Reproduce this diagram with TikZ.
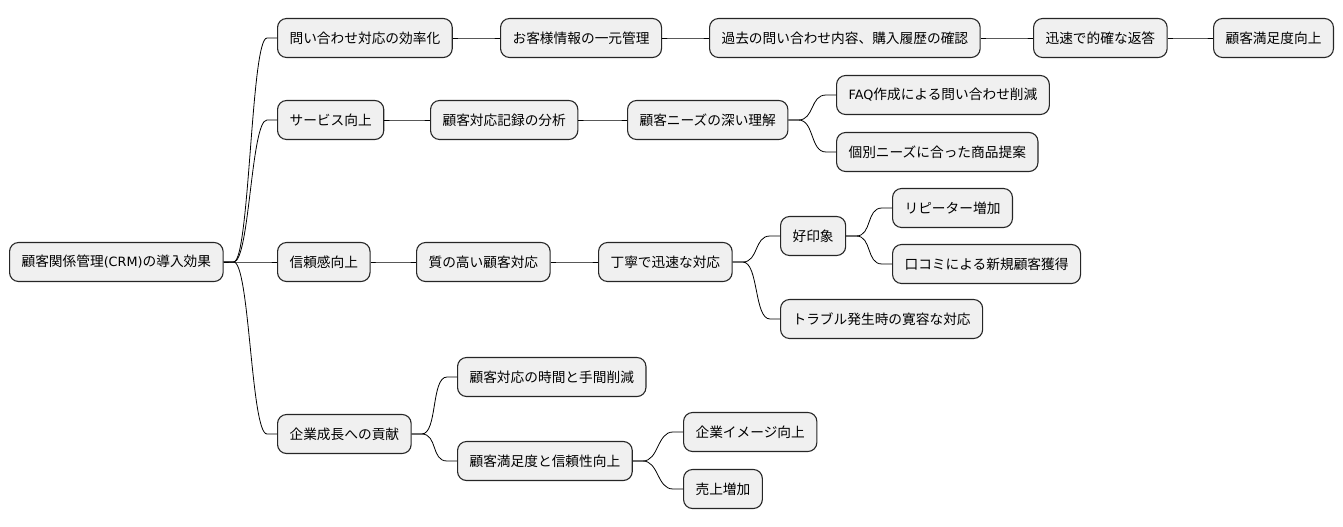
\documentclass[tikz,border=0pt]{standalone}
\usepackage{fontspec}
\setmainfont{Noto Sans CJK JP}
\newfontfamily\latin{DejaVu Sans}
\tikzset{
  topic/.style={draw=black!85, line width=1.1pt, fill=black!6, rounded corners=9pt,
    anchor=west, minimum height=39pt, inner xsep=12pt, inner ysep=0pt,
    font=\fontsize{13.7}{16}\selectfont},
  link/.style={line width=0.8pt, to path={-- ++(10,0) .. controls +(16,0) and +(-16,0) .. ([xshift=-10pt]\tikztotarget) -- (\tikztotarget)}}
}
\begin{document}
\begin{tikzpicture}[x=1pt,y=-1pt]
  \useasboundingbox (0,0) rectangle (1343,527);
  % root
  \node[topic] (root) at (9,262) {顧客関係管理{\latin\fontsize{12.8}{16}\selectfont (CRM)}の導入効果};
  % first branch
  \node[topic] (koritsu) at (277,38) {問い合わせ対応の効率化};
  \node[topic] (ichigen) at (500,38) {お客様情報の一元管理};
  \node[topic] (rireki) at (709,38) {過去の問い合わせ内容、購入履歴の確認};
  \node[topic] (hento) at (1033,38) {迅速で的確な返答};
  \node[topic] (manzoku) at (1213,38) {顧客満足度向上};
  % second branch
  \node[topic] (service) at (277,120) {サービス向上};
  \node[topic] (bunseki) at (430,120) {顧客対応記録の分析};
  \node[topic] (needs) at (627,120) {顧客ニーズの深い理解};
  \node[topic] (faq) at (836,95) {{\latin\fontsize{12.8}{16}\selectfont FAQ}作成による問い合わせ削減};
  \node[topic] (teian) at (836,152) {個別ニーズに合った商品提案};
  % third branch
  \node[topic] (shinrai) at (277,262) {信頼感向上};
  \node[topic] (shitsu) at (416,262) {質の高い顧客対応};
  \node[topic] (teinei) at (598,262) {丁寧で迅速な対応};
  \node[topic] (koinsho) at (780,236) {好印象};
  \node[topic] (repeat) at (892,208) {リピーター増加};
  \node[topic] (kuchikomi) at (892,264) {口コミによる新規顧客獲得};
  \node[topic] (trouble) at (780,319) {トラブル発生時の寛容な対応};
  % fourth branch
  \node[topic] (seicho) at (277,434) {企業成長への貢献};
  \node[topic] (jikan) at (457,377) {顧客対応の時間と手間削減};
  \node[topic] (shinraisei) at (457,461) {顧客満足度と信頼性向上};
  \node[topic] (image) at (683,432) {企業イメージ向上};
  \node[topic] (uriage) at (683,489) {売上増加};

  \foreach \a/\b in {root/koritsu, root/service, root/shinrai, root/seicho,
      koritsu/ichigen, ichigen/rireki, rireki/hento, hento/manzoku,
      service/bunseki, bunseki/needs, needs/faq, needs/teian,
      shinrai/shitsu, shitsu/teinei, teinei/koinsho, teinei/trouble,
      koinsho/repeat, koinsho/kuchikomi,
      seicho/jikan, seicho/shinraisei, shinraisei/image, shinraisei/uriage}
    \draw[link] (\a.east) to (\b.west);
\end{tikzpicture}
\end{document}
